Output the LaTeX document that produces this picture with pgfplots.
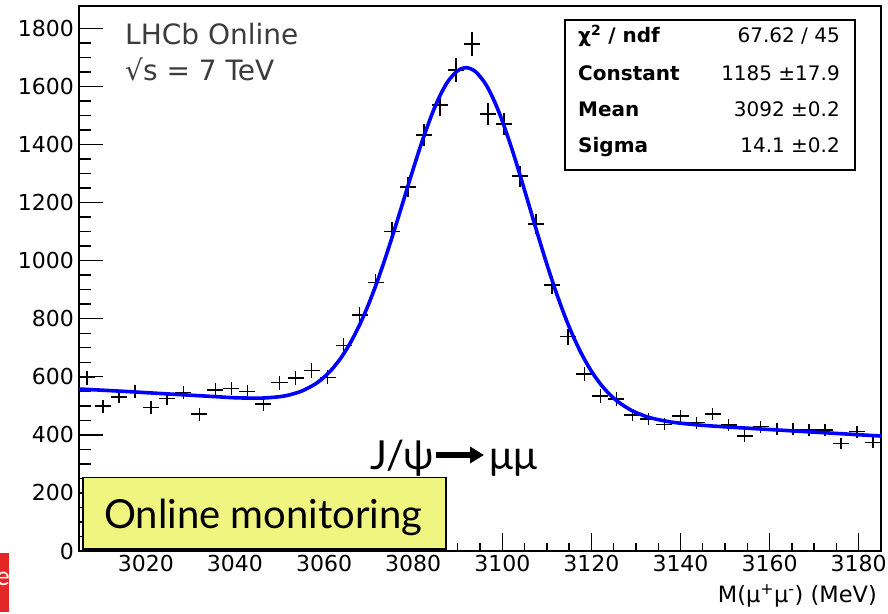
\documentclass[border=0pt]{standalone}
\usepackage{pgfplots}
\pgfplotsset{compat=1.18}
\usepackage{pgfplotstable}
\usepackage{fontspec}
\setmainfont{DejaVu Sans}
\newfontfamily\lato{Lato}
\usetikzlibrary{arrows.meta}
\definecolor{fitblue}{RGB}{0,0,255}
\definecolor{boxyellow}{RGB}{240,245,128}
\definecolor{slidered}{RGB}{228,38,38}
\definecolor{lhcbgray}{RGB}{60,60,60}

\pgfplotstableread{
x y e
3006.8 597 24.4
3010.4 499 22.3
3014.0 531 23.0
3017.6 549 23.4
3021.2 495 22.2
3024.8 526 22.9
3028.4 546 23.4
3032.0 471 21.7
3035.6 554 23.5
3039.2 560 23.7
3042.8 549 23.4
3046.4 506 22.5
3050.0 580 24.1
3053.6 595 24.4
3057.2 621 24.9
3060.8 598 24.5
3064.4 708 26.6
3068.0 813 28.5
3071.6 925 30.4
3075.2 1100 33.2
3078.8 1254 35.4
3082.4 1432 37.8
3086.0 1536 39.2
3089.6 1656 40.7
3093.2 1746 41.8
3096.8 1505 38.8
3100.4 1470 38.3
3104.0 1291 35.9
3107.6 1126 33.6
3111.2 916 30.3
3114.8 738 27.2
3118.4 609 24.7
3122.0 534 23.1
3125.6 523 22.9
3129.2 468 21.6
3132.8 455 21.3
3136.4 436 20.9
3140.0 465 21.6
3143.6 442 21.0
3147.2 472 21.7
3150.8 434 20.8
3154.4 396 19.9
3158.0 428 20.7
3161.6 419 20.5
3165.2 419 20.5
3168.8 417 20.4
3172.4 417 20.4
3176.0 371 19.3
3179.6 411 20.3
3183.2 373 19.3
}\datatable

\pgfplotstableread{
x y
3005 557.9
3015 549.9
3025 540.9
3035 532.2
3040 527.7
3045 526.5
3047 527.4
3050 531.4
3052 536.8
3055 550.8
3058 574.9
3060 598.6
3062 629.8
3064 669.8
3066 719.5
3068 779.5
3070 850.2
3072 930.9
3074 1020.4
3076 1116.5
3078 1216.0
3080 1315.4
3082 1410.1
3084 1495.6
3085 1533.5
3086 1567.4
3087 1596.9
3088 1621.5
3090 1654.5
3092 1664.6
3094 1650.9
3096 1614.3
3097 1587.9
3098 1556.6
3099 1520.9
3100 1481.2
3102 1392.1
3104 1293.8
3106 1190.8
3108 1087.7
3110 988.0
3112 894.9
3114 810.6
3116 736.3
3118 672.7
3120 619.4
3122 575.8
3124 541.0
3126 513.7
3129 484.2
3132 464.8
3134 455.8
3137 446.4
3139 441.9
3144 434.1
3149 428.6
3160 418.4
3170 409.4
3185 395.9
}\fittable

\begin{document}
\begin{tikzpicture}[x=1pt,y=1pt]
\useasboundingbox (0,0) rectangle (888,613);
% x ticks axis
\begin{axis}[
  at={(79pt,62pt)}, anchor=south west, scale only axis,
  width=802pt, height=545pt,
  xmin=3005, xmax=3185, ymin=0, ymax=1877,
  axis line style={line width=1.6pt},
  xtick={3020,3040,...,3180}, minor x tick num=3,
  ytick=\empty,
  xtick pos=left, tick align=inside,
  major tick length=18pt, minor tick length=8pt,
  tick style={line width=1.4pt, black},
  /pgf/number format/assume math mode=true,
  /pgf/number format/set thousands separator={},
  x tick label style={font=\fontsize{22}{22}\selectfont, inner sep=0pt, yshift=-4pt},
]
\end{axis}
% y ticks axis with data
\begin{axis}[
  at={(79pt,62pt)}, anchor=south west, scale only axis,
  width=802pt, height=545pt,
  xmin=3005, xmax=3185, ymin=0, ymax=1877,
  axis line style={line width=1.6pt},
  ytick={0,200,...,1800}, minor y tick num=3,
  xtick=\empty,
  ytick pos=left, tick align=inside,
  major tick length=24pt, minor tick length=12pt,
  tick style={line width=1.4pt, black},
  /pgf/number format/assume math mode=true,
  /pgf/number format/set thousands separator={},
  y tick label style={font=\fontsize{22}{22}\selectfont, inner sep=0pt, xshift=-5pt},
  clip=false,
]
\addplot[draw=none, mark=none,
  error bars/.cd, x dir=both, x fixed=1.8, y dir=both, y explicit,
  error mark=none, error bar style={draw=black, line width=1.5pt}]
  table[x=x, y=y, y error=e]{\datatable};
\addplot[fitblue, line width=3.6pt, smooth, mark=none] table[x=x,y=y]{\fittable};
\end{axis}

% LHCb label
\node[anchor=base west, inner sep=0pt, text=lhcbgray, font=\fontsize{28}{28}\selectfont] at (125,568) {LHCb Online};
\node[anchor=base west, inner sep=0pt, text=lhcbgray, font=\fontsize{28}{28}\selectfont] at (125,532) {√s = 7 TeV};

% stat box
\draw[line width=1.5pt, fill=white] (565,443) rectangle (855,593);
\node[anchor=base west, inner sep=0pt, font=\fontsize{20}{20}\selectfont\bfseries] at (578,570) {χ\textsuperscript{2} / ndf};
\node[anchor=base east, inner sep=0pt, font=\fontsize{20}{20}\selectfont] at (840,570) {67.62 / 45};
\node[anchor=base west, inner sep=0pt, font=\fontsize{20}{20}\selectfont\bfseries] at (578,532.5) {Constant};
\node[anchor=base east, inner sep=0pt, font=\fontsize{20}{20}\selectfont] at (840,532.5) {1185 ±17.9};
\node[anchor=base west, inner sep=0pt, font=\fontsize{20}{20}\selectfont\bfseries] at (578,496.5) {Mean};
\node[anchor=base east, inner sep=0pt, font=\fontsize{20}{20}\selectfont] at (840,496.5) {3092 ±0.2};
\node[anchor=base west, inner sep=0pt, font=\fontsize{20}{20}\selectfont\bfseries] at (578,460) {Sigma};
\node[anchor=base east, inner sep=0pt, font=\fontsize{20}{20}\selectfont] at (840,460) {14.1 ±0.2};

% x axis title
\node[anchor=base east, inner sep=0pt, font=\fontsize{22.5}{22.5}\selectfont] at (877,11) {M(μ\textsuperscript{+}μ\textsuperscript{-}) (MeV)};

% J/psi -> mu mu
\node[anchor=base west, inner sep=0pt, font=\lato\fontsize{40}{40}\selectfont] at (370,143) {J/ψ};
\draw[line width=6.5pt, -{Triangle[length=14pt,width=16pt]}] (436,158) -- (484,158);
\node[anchor=base west, inner sep=0pt, font=\lato\fontsize{40}{40}\selectfont] at (489,143) {μμ};

% yellow box
\draw[line width=1.6pt, fill=boxyellow] (83,64) rectangle (446,135.3);
\node[anchor=base west, inner sep=0pt, font=\lato\fontsize{40}{40}\selectfont] at (104,84.7) {Online monitoring};

% slide fragment
\fill[slidered] (-30,1.3) rectangle (8.5,60.3);
\node[anchor=base east, inner sep=0pt, text=white, font=\lato\fontsize{26}{26}\selectfont] at (10,28) {e};
\end{tikzpicture}
\end{document}
